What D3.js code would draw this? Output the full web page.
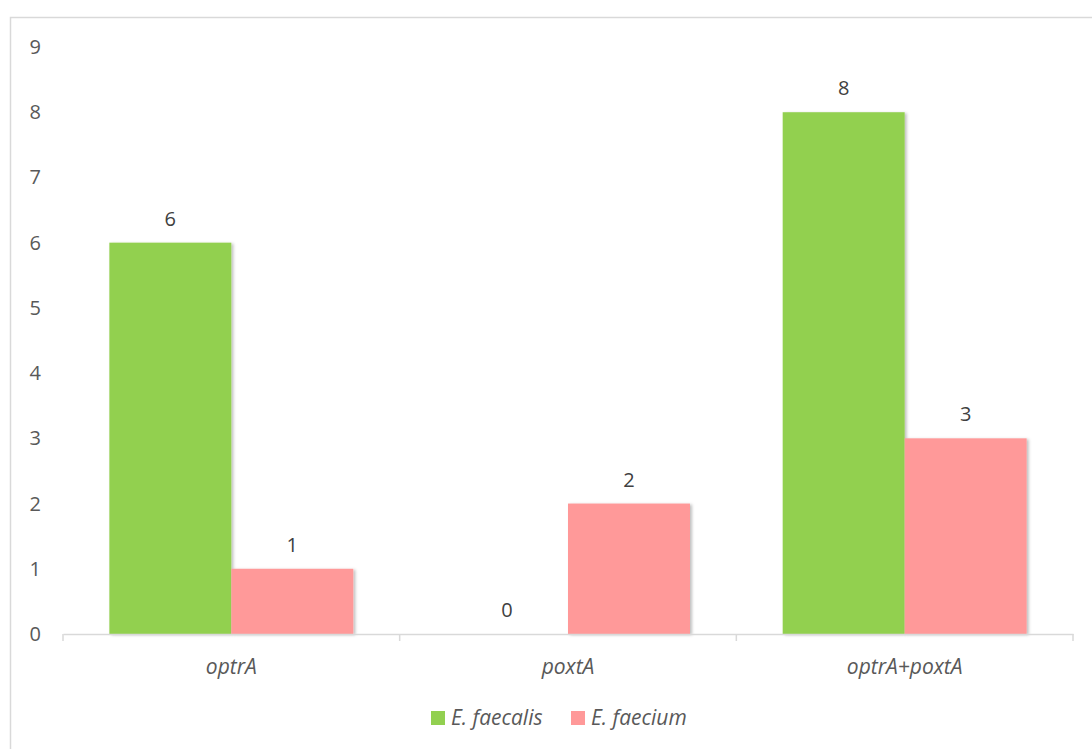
<!DOCTYPE html>
<html>
<head>
<meta charset="utf-8">
<script src="https://cdn.jsdelivr.net/npm/d3@7/dist/d3.min.js"></script>
<style>
  html, body { margin: 0; padding: 0; background: #fff; }
  svg { display: block; font-family: "Open Sans", "Noto Sans", sans-serif; }
</style>
</head>
<body>
<svg id="chart" width="1092" height="749"></svg>
<script>
// Gene categories and isolate counts per species
const categories = ["optrA", "poxtA", "optrA+poxtA"];
const seriesNames = ["E. faecalis", "E. faecium"];
const faecalis = [6, 0, 8];
const faecium = [1, 2, 3];
const yTicks = [0, 1, 2, 3, 4, 5, 6, 7, 8, 9];
const colors = ["#92d050", "#ff9999"];

const svg = d3.select("#chart");
const W = 1092, H = 749;
const margin = { left: 63, right: 19, top: 47, bottom: 115 };

// Outer frame (extends past the right and bottom edges)
svg.append("rect")
  .attr("x", 10.5).attr("y", 17.5)
  .attr("width", 1100).attr("height", 760)
  .attr("fill", "none").attr("stroke", "#d9d9d9").attr("stroke-width", 1.5);

const defs = svg.append("defs");
const f = defs.append("filter").attr("id", "shadow")
  .attr("x", "-10%").attr("y", "-10%").attr("width", "130%").attr("height", "130%");
f.append("feDropShadow").attr("dx", 2).attr("dy", 1).attr("stdDeviation", 1.8)
  .attr("flood-color", "#000").attr("flood-opacity", 0.25);

const x0 = d3.scaleBand().domain(categories)
  .range([margin.left, W - margin.right]).paddingInner(0).paddingOuter(0);
const x1 = d3.scaleBand().domain(seriesNames)
  .range([0, x0.bandwidth()]).paddingOuter(0.38).paddingInner(0);
const y = d3.scaleLinear().domain([0, 9]).range([H - margin.bottom, margin.top]);

// Y tick labels (no axis line)
svg.append("g").selectAll("text").data(yTicks).join("text")
  .attr("x", 41).attr("y", d => y(d))
  .attr("dy", "0.35em").attr("text-anchor", "end")
  .attr("font-size", 20).attr("fill", "#595959")
  .text(d => d);

const data = categories.map((c, i) => ({ cat: c, vals: [faecalis[i], faecium[i]] }));

const groups = svg.append("g").selectAll("g").data(data).join("g")
  .attr("transform", d => `translate(${x0(d.cat)},0)`);

groups.selectAll("rect").data(d => d.vals.map((v, j) => ({ v, s: seriesNames[j], j })))
  .join("rect")
  .attr("x", d => x1(d.s))
  .attr("y", d => y(d.v))
  .attr("width", x1.bandwidth())
  .attr("height", d => y(0) - y(d.v))
  .attr("fill", d => colors[d.j])
  .attr("filter", d => d.v > 0 ? "url(#shadow)" : null);

groups.selectAll("text.val").data(d => d.vals.map((v, j) => ({ v, s: seriesNames[j] })))
  .join("text").attr("class", "val")
  .attr("x", d => x1(d.s) + x1.bandwidth() / 2)
  .attr("y", d => y(d.v) - 24)
  .attr("dy", "0.35em")
  .attr("text-anchor", "middle")
  .attr("font-size", 20).attr("fill", "#404040")
  .text(d => d.v);

// X axis
const xAxis = d3.axisBottom(x0).tickSize(0).tickFormat("");
const gx = svg.append("g").attr("transform", `translate(0,${y(0)})`).call(xAxis);
gx.select(".domain").attr("stroke", "#d9d9d9").attr("stroke-width", 1.5);
const bounds = [0, 1, 2, 3].map(i => margin.left + i * x0.step());
gx.selectAll("line.sep").data(bounds).join("line").attr("class", "sep")
  .attr("x1", d => d).attr("x2", d => d).attr("y1", 0).attr("y2", 7)
  .attr("stroke", "#d9d9d9").attr("stroke-width", 1.5);

svg.append("g").selectAll("text").data(categories).join("text")
  .attr("x", d => x0(d) + x0.bandwidth() / 2)
  .attr("y", y(0) + 33)
  .attr("dy", "0.35em")
  .attr("text-anchor", "middle")
  .attr("font-size", 21).attr("font-style", "italic").attr("fill", "#595959")
  .text(d => d);

// Legend
const legend = svg.append("g").attr("transform", "translate(431,718)");
const items = [{ name: seriesNames[0], x: 0 }, { name: seriesNames[1], x: 140 }];
items.forEach((it, i) => {
  legend.append("rect").attr("x", it.x).attr("y", -7).attr("width", 14).attr("height", 14)
    .attr("fill", colors[i]);
  legend.append("text").attr("x", it.x + 20).attr("y", 0).attr("dy", "0.35em")
    .attr("font-size", 21).attr("font-style", "italic").attr("fill", "#595959")
    .text(it.name);
});
</script>
</body>
</html>
